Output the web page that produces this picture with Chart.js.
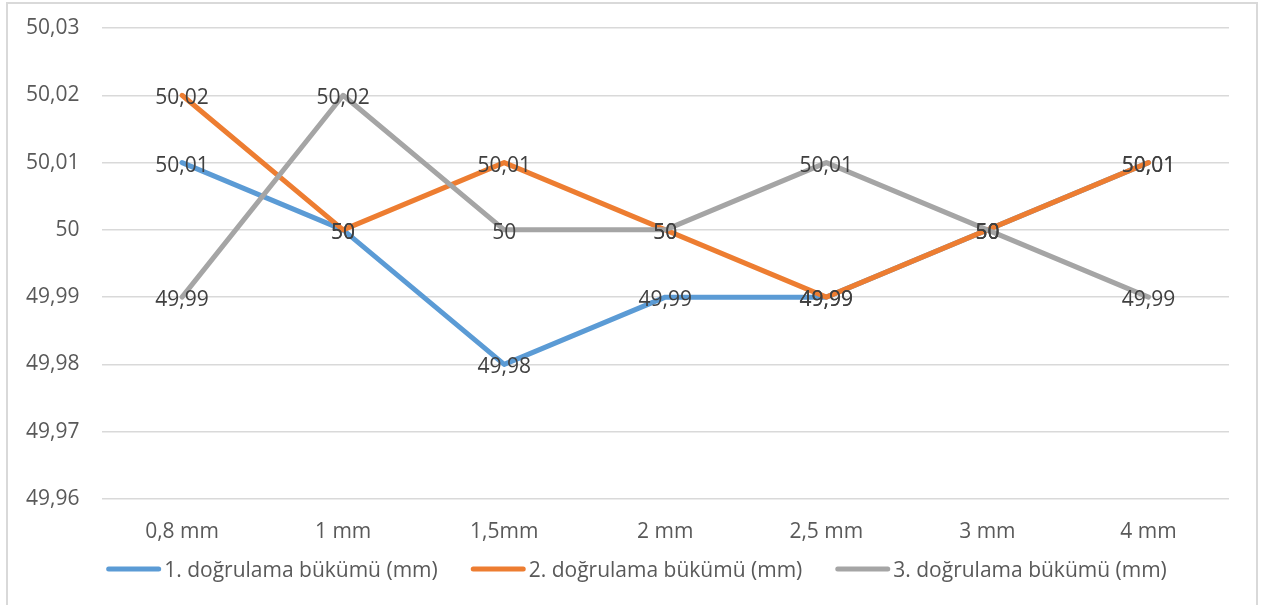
<!DOCTYPE html>
<html>
<head>
<meta charset="utf-8">
<script src="https://cdn.jsdelivr.net/npm/chart.js@4.4.1/dist/chart.umd.min.js"></script>
<style>
  html, body { margin: 0; padding: 0; background: #fff; overflow: hidden; }
  #frame { position: absolute; left: 6px; top: 2px; width: 1252px; height: 640px;
           border: 2px solid #d9d9d9; box-sizing: border-box; }
  #wrap { position: absolute; left: 0; top: 0; width: 1264px; height: 605px; }
</style>
</head>
<body>
<div id="frame"></div>
<div id="wrap"><canvas id="c" width="1264" height="605"></canvas></div>
<script>
// Bend sizes on the x axis
const categories = ['0,8 mm', '1 mm', '1,5mm', '2 mm', '2,5 mm', '3 mm', '4 mm'];

// Measured values for each verification bend
const seriesNames = [
  '1. doğrulama bükümü (mm)',
  '2. doğrulama bükümü (mm)',
  '3. doğrulama bükümü (mm)'
];
const bukum1 = [50.01, 50, 49.98, 49.99, 49.99, 50, 50.01];
const bukum2 = [50.02, 50, 50.01, 50, 49.99, 50, 50.01];
const bukum3 = [49.99, 50.02, 50, 50, 50.01, 50, 49.99];

// Value axis ticks
const yTicks = [49.96, 49.97, 49.98, 49.99, 50, 50.01, 50.02, 50.03];

const seriesColors = ['#5B9BD5', '#ED7D31', '#A5A5A5'];
const FONT = '"Open Sans", "DejaVu Sans", sans-serif';
const FSIZE = 21;

function fmt(v) {
  return String(Number(v.toFixed(2))).replace('.', ',');
}

// Value labels centred on each point, drawn above all lines
const valueLabels = {
  id: 'valueLabels',
  afterDatasetsDraw(chart) {
    const ctx = chart.ctx;
    ctx.save();
    ctx.font = FSIZE + 'px ' + FONT;
    ctx.fillStyle = '#404040';
    ctx.textAlign = 'center';
    ctx.textBaseline = 'alphabetic';
    chart.data.datasets.forEach((ds, i) => {
      const meta = chart.getDatasetMeta(i);
      meta.data.forEach((pt, j) => {
        ctx.fillText(fmt(ds.data[j]), pt.x, pt.y + 9);
      });
    });
    ctx.restore();
  }
};

// Legend row with line samples below the axis
const lineLegend = {
  id: 'lineLegend',
  afterDraw(chart) {
    const ctx = chart.ctx;
    ctx.save();
    ctx.font = FSIZE + 'px ' + FONT;
    const lineLen = 55, gap = 3, between = 33;
    const items = chart.data.datasets.map(ds => ({
      color: ds.borderColor, text: ds.label, w: ctx.measureText(ds.label).width
    }));
    let total = items.reduce((s, it) => s + lineLen + gap + it.w, 0) + between * (items.length - 1);
    let x = 636.5 - total / 2;
    const y = 569;
    items.forEach(it => {
      ctx.strokeStyle = it.color;
      ctx.lineWidth = 5;
      ctx.lineCap = 'round';
      ctx.beginPath();
      ctx.moveTo(x + 2.5, y);
      ctx.lineTo(x + lineLen - 2.5, y);
      ctx.stroke();
      ctx.fillStyle = '#595959';
      ctx.textAlign = 'left';
      ctx.textBaseline = 'alphabetic';
      ctx.fillText(it.text, x + lineLen + gap, y + 7.5);
      x += lineLen + gap + it.w + between;
    });
    ctx.restore();
  }
};

function build() {
  const allSeries = [bukum1, bukum2, bukum3];
  const drawOrder = [2, 1, 0];
  new Chart(document.getElementById('c'), {
    type: 'line',
    data: {
      labels: categories,
      datasets: allSeries.map((d, i) => ({
        label: seriesNames[i],
        data: d,
        borderColor: seriesColors[i],
        backgroundColor: seriesColors[i],
        borderWidth: 5,
        borderCapStyle: 'round',
        borderJoinStyle: 'round',
        pointRadius: 0,
        tension: 0,
        fill: false,
        order: drawOrder[i]
      }))
    },
    options: {
      responsive: false,
      animation: false,
      devicePixelRatio: 1,
      layout: { padding: { left: 0, right: 35, top: 28, bottom: 60 } },
      plugins: { legend: { display: false }, tooltip: { enabled: false } },
      scales: {
        x: {
          offset: true,
          grid: { display: false, drawTicks: false, offset: true },
          border: { display: false },
          ticks: { color: '#595959', font: { family: FONT, size: FSIZE }, padding: 20, maxRotation: 0 },
          afterFit(s) { s.height = 46; }
        },
        y: {
          min: 49.96,
          max: 50.03,
          afterBuildTicks(s) { s.ticks = yTicks.map(v => ({ value: v })); },
          grid: { color: '#d9d9d9', lineWidth: 1.5, drawTicks: false },
          border: { display: false },
          ticks: {
            color: '#595959',
            font: { family: FONT, size: FSIZE },
            padding: 22,
            callback: v => fmt(v)
          },
          afterFit(s) { s.width = 101.5; s.paddingTop = 0; s.paddingBottom = 0; }
        }
      }
    },
    plugins: [valueLabels, lineLegend]
  });
}

if (document.fonts && document.fonts.load) {
  document.fonts.load(FSIZE + 'px "Open Sans"').then(build, build);
} else {
  build();
}
</script>
</body>
</html>
